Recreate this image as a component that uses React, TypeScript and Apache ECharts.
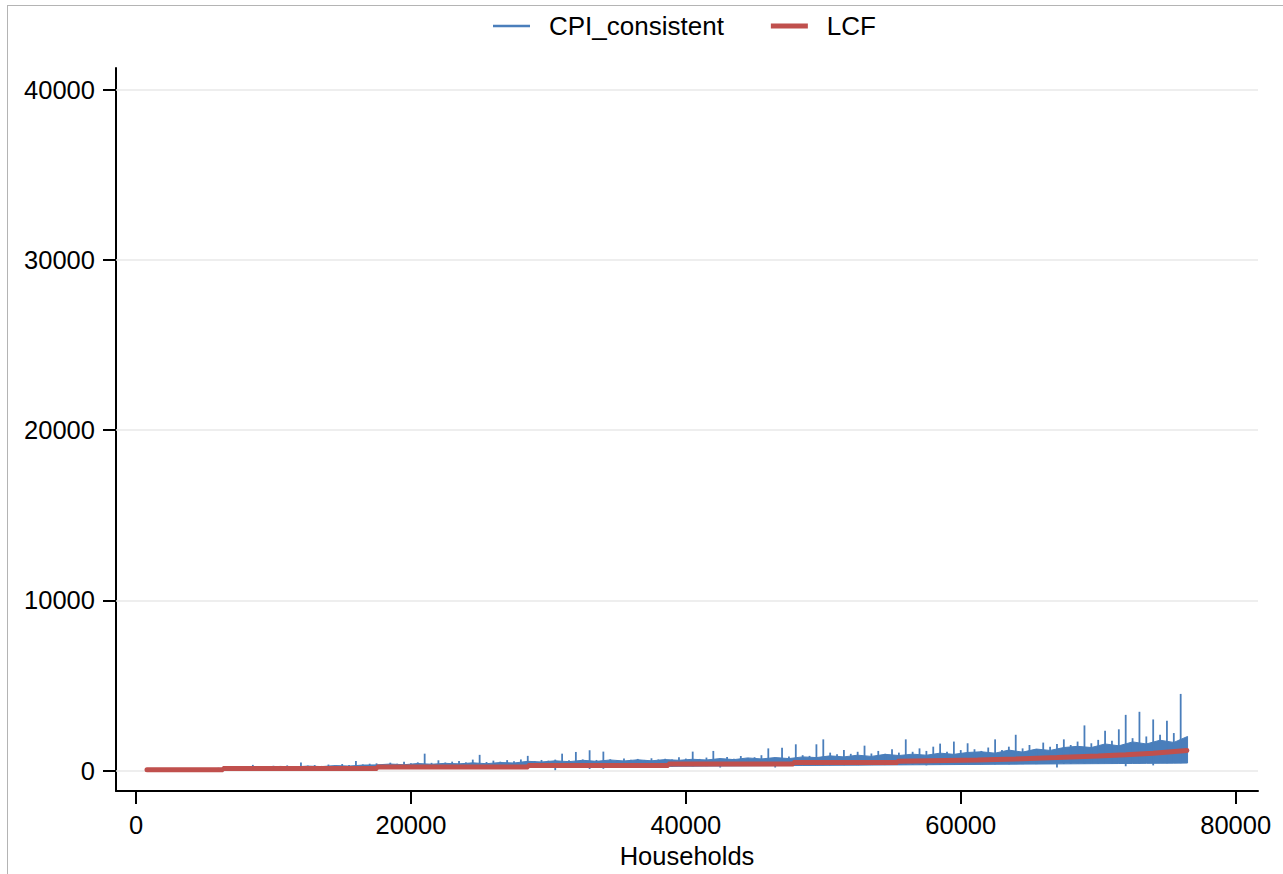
import React, { useEffect, useRef } from "react";
import * as echarts from "echarts";

// Households are ranked 1..N; CPI_consistent extremes read every HH_STEP households
const HH_START = 1000;
const HH_STEP = 500;

// CPI_consistent: lowest value in each slice of households
const cpiTroughs = [
  // 1000 - 8000
  20, 30, 25, 35, 30, 40, 35, 45, 40, 50, 45, 55, 50, 60, 55,
  // 8500 - 17000
  70, 60, 80, 75, 90, 85, 95, 80, 100, 90, 105, 95, 110, 100, 115, 105, 120, 110,
  // 17500 - 28000
  130, 120, 140, 125, 150, 135, 155, 140, 160, 145, 165, 150, 170, 155, 175, 160, 180, 165, 185, 170, 190, 175,
  // 28500 - 39500
  190, 200, 185, 210, 20, 205, 220, 195, 225, 90, 230, 100, 235, 215, 240, 220, 245, 225, 250, 230, 255, 235, 260,
  // 40000 - 49500
  260, 240, 270, 250, 275, 175, 280, 260, 285, 265, 290, 270, 295, 175, 300, 280, 305, 285, 310, 290,
  // 50000 - 60500
  320, 300, 325, 305, 330, 310, 335, 315, 340, 320, 345, 325, 350, 330, 355, 300, 360, 335, 365, 340, 370, 345,
  // 61000 - 67500
  375, 350, 380, 355, 385, 360, 390, 365, 395, 370, 400, 375, 175, 380,
  // 68000 - 76000
  390, 410, 395, 420, 400, 425, 405, 430, 250, 435, 415, 440, 300, 445, 425, 450, 430,
];

// CPI_consistent: highest value in each slice of households
const cpiPeaks = [
  // 1000 - 8000
  70, 90, 80, 110, 95, 120, 100, 130, 115, 140, 160, 150, 170, 210, 190,
  // 8500 - 17000
  330, 250, 220, 280, 240, 300, 260, 470, 290, 320, 270, 350, 300, 380, 330, 565, 360, 400,
  // 17500 - 28000
  420, 380, 460, 400, 520, 430, 480, 990, 450, 600, 470, 520, 560, 480, 640, 920, 500, 580, 520, 610, 540, 650,
  // 28500 - 39500
  860, 560, 620, 580, 640, 990, 600, 1090, 650, 1190, 620, 1110, 660, 600, 700, 630, 680, 620, 720, 650, 690, 640, 780,
  // 40000 - 49500
  700, 1110, 680, 760, 1150, 720, 800, 690, 850, 740, 780, 900, 1300, 760, 1340, 820, 1540, 900, 860, 1540,
  // 50000 - 60500
  1830, 1050, 950, 1200, 980, 1100, 1460, 1000, 1150, 980, 1250, 1050, 1830, 1100, 1300, 1150, 1400, 1580, 1100, 1700, 1200, 1600,
  // 61000 - 67500
  1250, 1150, 1350, 1830, 1200, 1400, 2100, 1300, 1500, 1250, 1640, 1400, 1550, 1830,
  // 68000 - 76000
  1500, 1700, 2650, 1600, 1800, 2340, 1750, 2420, 3270, 1900, 3450, 2000, 3000, 2100, 2920, 2200, 4500,
];

// Dense core of the CPI_consistent cloud: lower and upper edge, every 1000 households
const BAND_START = 1500;
const BAND_STEP = 1000;
const cpiBandLow = [
  20, 25, 30, 35, 40, 45, 50,
  60, 70, 75, 85, 90, 95, 100, 105, 110,
  120, 130, 135, 145, 150, 155, 160, 165, 170, 175, 180,
  185, 190, 200, 205, 210, 215, 220, 225, 230, 235, 240, 250,
  255, 260, 265, 270, 275, 280, 285, 290, 295, 300,
  305, 310, 315, 320, 325, 330, 335, 340, 345, 350, 355,
  360, 365, 370, 375, 380, 385, 390,
  395, 400, 405, 410, 415, 420, 425, 430, 440,
];
const cpiBandHigh = [
  60, 75, 70, 95, 100, 130, 140,
  200, 190, 240, 210, 260, 230, 290, 260, 320,
  330, 380, 340, 410, 370, 420, 390, 450, 400, 470, 440,
  540, 500, 570, 520, 600, 540, 620, 560, 630, 570, 640, 600,
  660, 620, 700, 640, 740, 680, 760, 700, 800, 760,
  860, 800, 900, 830, 950, 880, 960, 900, 1020, 950, 1060,
  1100, 1020, 1200, 1080, 1260, 1180, 1350,
  1420, 1350, 1560, 1450, 1680, 1560, 1780, 1650, 2000,
];

// LCF series (step-like, then rising)
const lcfHouseholds = [
  800, 6330, 6330, 17540, 17540, 28530, 28530, 38730, 38730, 47830,
  47830, 55400, 55400, 61220, 64000, 67000, 70000, 72000, 74000, 76450,
];
const lcfValues = [
  40, 40, 120, 120, 210, 210, 300, 300, 380, 380,
  470, 470, 550, 620, 680, 760, 850, 930, 1020, 1180,
];

const xTicks = [0, 20000, 40000, 60000, 80000];
const yTicks = [0, 10000, 20000, 30000, 40000];

const FONT = "'Liberation Sans', Arial, Helvetica, sans-serif";
const BLUE = "#4a7ebb";
const RED = "#c0504d";

export default function App() {
  const ref = useRef<HTMLDivElement>(null);

  useEffect(() => {
    if (!ref.current) return;
    const chart = echarts.init(ref.current, undefined, { renderer: "svg" });

    const spikeData = cpiTroughs.map((lo, i) => [HH_START + i * HH_STEP, lo, cpiPeaks[i]]);
    const bandData = cpiBandLow.map((v, i) => [BAND_START + i * BAND_STEP, v, cpiBandHigh[i]]);
    const lcfData = lcfHouseholds.map((h, i) => [h, lcfValues[i]]);

    const labelStyle = { fontFamily: FONT, fontSize: 25.5, color: "#000" };
    const plain = (v: number) => String(v);

    chart.setOption({
      animation: false,
      backgroundColor: "#fff",
      textStyle: { fontFamily: FONT },
      grid: { left: 116, right: 25, top: 68, bottom: 80, containLabel: false },
      legend: {
        data: [
          { name: "CPI_consistent", icon: "path://M0 0H37V2.4H0Z" },
          { name: "LCF", icon: "rect" },
        ],
        left: 493,
        top: 13,
        padding: 0,
        itemWidth: 37,
        itemHeight: 5,
        itemGap: 47,
        textStyle: { ...labelStyle, fontSize: 26, padding: [0, 0, 0, 14] },
      },
      xAxis: {
        type: "value",
        min: -1455,
        max: 81625,
        name: "Households",
        nameLocation: "middle",
        nameGap: 48,
        nameTextStyle: labelStyle,
        axisLine: { show: true, onZero: false, lineStyle: { color: "#000", width: 2 } },
        axisTick: { show: true, customValues: xTicks, length: 13, lineStyle: { color: "#000", width: 2 } },
        axisLabel: { customValues: xTicks, margin: 21, formatter: plain, ...labelStyle },
        splitLine: { show: false },
      },
      yAxis: {
        type: "value",
        min: -1210,
        max: 41275,
        axisLine: { show: true, onZero: false, lineStyle: { color: "#000", width: 2 } },
        axisTick: { show: true, customValues: yTicks, length: 13, lineStyle: { color: "#000", width: 2 } },
        axisLabel: { customValues: yTicks, margin: 21, formatter: plain, ...labelStyle },
        splitLine: { show: false },
      },
      graphic: [
        { type: "line", shape: { x1: 7, y1: 5.5, x2: 1283, y2: 5.5 }, style: { stroke: "#b4b4b4", lineWidth: 1 }, silent: true },
        { type: "line", shape: { x1: 7.5, y1: 5, x2: 7.5, y2: 874 }, style: { stroke: "#b4b4b4", lineWidth: 1 }, silent: true },
      ],
      series: [
        {
          id: "grid-lines",
          type: "line",
          data: [],
          z: 1,
          silent: true,
          markLine: {
            z: 1,
            silent: true,
            symbol: ["none", "none"],
            label: { show: false },
            lineStyle: { color: "#e8e8e8", width: 1.5, type: "solid" },
            data: yTicks.map((v) => ({ yAxis: v })),
          },
        },
        {
          id: "cpi-band",
          type: "custom",
          data: bandData,
          encode: { x: 0, y: [1, 2] },
          silent: true,
          z: 2,
          renderItem: (params: any, api: any) => {
            if (params.dataIndex !== 0) return null;
            const top = bandData.map((d) => api.coord([d[0], d[2]]));
            const bottom = bandData.map((d) => api.coord([d[0], d[1]])).reverse();
            return {
              type: "polygon",
              shape: { points: top.concat(bottom) },
              style: { fill: BLUE, stroke: BLUE, lineWidth: 1 },
            };
          },
        },
        {
          name: "CPI_consistent",
          type: "custom",
          data: spikeData,
          encode: { x: 0, y: [1, 2] },
          silent: true,
          itemStyle: { color: BLUE },
          z: 3,
          renderItem: (params: any, api: any) => {
            const x = api.value(0);
            const p1 = api.coord([x, api.value(1)]);
            const p2 = api.coord([x, api.value(2)]);
            return {
              type: "line",
              shape: { x1: p1[0], y1: p1[1], x2: p2[0], y2: p2[1] },
              style: { stroke: BLUE, lineWidth: 1.8 },
            };
          },
        },
        {
          name: "LCF",
          type: "line",
          data: lcfData,
          showSymbol: false,
          symbol: "none",
          color: RED,
          lineStyle: { color: RED, width: 5, cap: "round" },
          z: 4,
        },
      ],
    });

    return () => chart.dispose();
  }, []);

  return (
    <div
      ref={ref}
      style={{ position: "fixed", left: 0, top: 0, width: 1283, height: 874, background: "#fff" }}
    />
  );
}
